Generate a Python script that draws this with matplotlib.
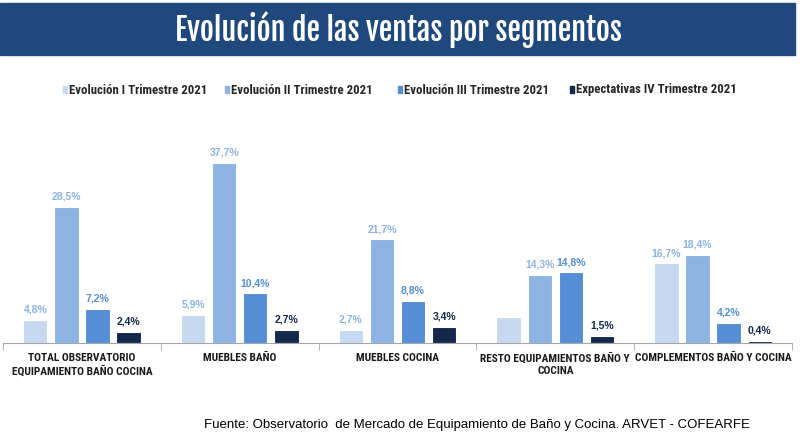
import matplotlib.pyplot as plt
import numpy as np

categorias = ["TOTAL OBSERVATORIO\nEQUIPAMIENTO BAÑO COCINA", "MUEBLES BAÑO", "MUEBLES COCINA",
              "RESTO EQUIPAMIENTOS BAÑO Y\nCOCINA", "COMPLEMENTOS BAÑO Y COCINA"]
series = ["Evolución I Trimestre 2021", "Evolución II Trimestre 2021",
          "Evolución III Trimestre 2021", "Expectativas IV Trimestre 2021"]
t1 = [4.8, 5.9, 2.7, 5.5, 16.7]
t2 = [28.5, 37.7, 21.7, 14.3, 18.4]
t3 = [7.2, 10.4, 8.8, 14.8, 4.2]
t4 = [2.4, 2.7, 3.4, 1.5, 0.4]
etiquetas = [
    ["4,8%", "5,9%", "2,7%", "", "16,7%"],
    ["28,5%", "37,7%", "21,7%", "14,3%", "18,4%"],
    ["7,2%", "10,4%", "8,8%", "14,8%", "4,2%"],
    ["2,4%", "2,7%", "3,4%", "1,5%", "0,4%"],
]

colores = ["#C6D9F1", "#8DB3E2", "#558ED5", "#14284B"]
col_txt = ["#8DB3E2", "#8DB3E2", "#558ED5", "#14284B"]
titulo_font = ["Fjalla One", "Oswald", "DejaVu Sans"]
cond_font = ["Roboto Condensed", "DejaVu Sans"]
arial = ["Liberation Sans", "DejaVu Sans"]

fig = plt.figure(figsize=(8.04, 4.46), dpi=100)

# banner
fig.patches.append(plt.Rectangle((0, 1 - 55 / 446), 795 / 804, 52 / 446,
                                 transform=fig.transFigure, color="#1F497D", zorder=0))
fig.text(398 / 804, 1 - 30 / 446, "Evolución de las ventas por segmentos", color="white",
         fontsize=21.8, family=titulo_font, ha="center", va="center")

ax = fig.add_axes([3 / 804, 103 / 446, 789 / 804, 0.428])
x = np.arange(len(categorias))
for i, vals in enumerate([t1, t2, t3, t4]):
    pos = x + (i - 1.5) * 0.197
    bars = ax.bar(pos, vals, width=0.155, color=colores[i], edgecolor="white", linewidth=0.8)
    for b, lab in zip(bars, etiquetas[i]):
        if lab:
            ax.text(b.get_x() + b.get_width() / 2, b.get_height() + 1.1, lab, ha="center",
                    va="bottom", fontsize=7.5, fontweight="bold", color=col_txt[i],
                    family=arial)

ax.set_xlim(-0.5, len(categorias) - 0.5)
ax.set_ylim(0, 40)
for s in ["top", "right", "left"]:
    ax.spines[s].set_visible(False)
ax.spines["bottom"].set_color("#A6A6A6")
ax.set_yticks([])
ax.set_xticks(x)
ax.set_xticklabels(categorias, fontsize=8.2, fontweight="bold", family=cond_font,
                   linespacing=1.25, color="#1a1a1a")
ax.tick_params(axis="x", which="major", length=0, pad=7)
ax.set_xticks(np.arange(len(categorias) + 1) - 0.5, minor=True)
ax.tick_params(axis="x", which="minor", length=5, color="#A6A6A6")

# legend
leg_x = [63, 225, 398, 570]
for i, nombre in enumerate(series):
    fig.patches.append(plt.Rectangle((leg_x[i] / 804, 1 - 93 / 446), 4 / 804, 7 / 446,
                                     transform=fig.transFigure, color=colores[i]))
    fig.text((leg_x[i] + 6) / 804, 1 - 90 / 446, nombre, fontsize=9.2, fontweight="bold",
             family=cond_font, ha="left", va="center", color="#262626")

fig.text(750 / 804, 1 - 425 / 446,
         "Fuente: Observatorio  de Mercado de Equipamiento de Baño y Cocina. ARVET - COFEARFE",
         fontsize=9.5, family=arial, ha="right", va="center", color="black")

fig.savefig("out.png", dpi=100)
